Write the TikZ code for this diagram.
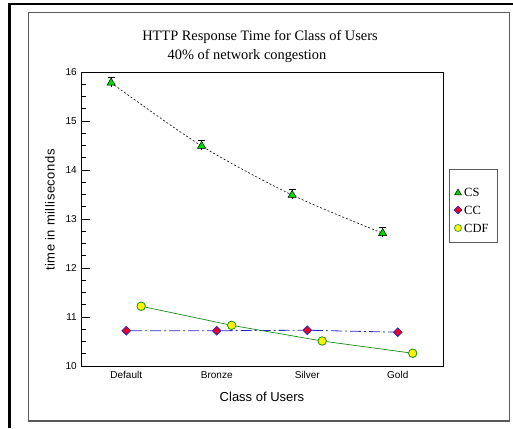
\documentclass[tikz,border=0pt]{standalone}
\usepackage{fontspec}
\setmainfont{Liberation Serif}
\setsansfont{Liberation Sans}
\usetikzlibrary{shapes.geometric,backgrounds}
\definecolor{MarkGreen}{RGB}{0,215,0}
\definecolor{LineGreen}{RGB}{20,140,20}
\definecolor{CCBlue}{RGB}{40,40,200}
\definecolor{MarkRed}{RGB}{235,0,30}
\definecolor{MarkYellow}{RGB}{255,245,0}
\definecolor{FrameGray}{RGB}{90,90,90}

\begin{document}
\begin{tikzpicture}[x=1pt, y=1pt,
  csmark/.style={regular polygon, regular polygon sides=3, fill=MarkGreen, draw=black, line width=0.5pt, inner sep=0pt, minimum size=9.5pt},
  ccmark/.style={diamond, fill=MarkRed, draw=CCBlue, line width=0.8pt, inner sep=0pt, minimum size=9pt},
  cdfmark/.style={circle, fill=MarkYellow, draw=LineGreen, line width=0.8pt, inner sep=0pt, minimum size=8.5pt},
  csline/.style={black, line width=0.6pt, dash pattern=on 2pt off 2pt},
  ccline/.style={CCBlue, line width=0.8pt, dash pattern=on 11pt off 3pt on 2pt off 3pt},
  cdfline/.style={LineGreen, line width=0.7pt},
  ticklabel/.style={font=\sffamily\fontsize{10}{12}\selectfont, inner sep=0pt},
  axislabel/.style={font=\sffamily\fontsize{13}{15}\selectfont, inner sep=0pt},
  titlefont/.style={font=\fontsize{14.4}{17}\selectfont, inner sep=0pt},
  legendfont/.style={font=\fontsize{12.5}{15}\selectfont, inner sep=0pt, anchor=west}]
\useasboundingbox (0,0) rectangle (513,428);

% Frames
\draw[line width=2.5pt] (9.5,0) -- (9.5,424) -- (513,424);
\draw[FrameGray, line width=0.8pt] (28,7) rectangle (509.5,416);
\draw[FrameGray, line width=1.6pt] (28,7) -- (509.5,7) -- (509.5,416);

% Title
\node[titlefont] (title) at (260,391) {HTTP Response Time for Class of Users};
\node[titlefont] (subtitle) at (247,372) {40\% of network congestion};

% Axis labels
\node[axislabel, rotate=90] (ylabel) at (50,218) {\addfontfeature{LetterSpace=4}time in milliseconds};
\node[axislabel] (xlabel) at (262,31) {Class of Users};

\begin{scope}[shift={(81pt,-428pt)}, x=90.5pt, y=49pt]
% Plot box
\draw[line width=0.8pt] (0,10) rectangle (4,16);

% Y ticks
\foreach \i in {0,...,24} {
  \draw[line width=0.6pt] (0,{10+\i/4}) -- ++(5pt,0);
}
\foreach \v in {10,...,16} {
  \draw[line width=0.6pt] (0,\v) -- ++(9pt,0);
  \node[ticklabel, anchor=east] (yt\v) at ([xshift=-4pt]0,\v) {\v};
}

% Categories
\foreach \c/\name in {0.5/Default, 1.5/Bronze, 2.5/Silver, 3.5/Gold} {
  \node[ticklabel, anchor=north] (xt\name) at ([yshift=-5pt]\c,10) {\name};
}

% Markers
\foreach \c/\v [count=\i] in {0.333/15.78, 1.333/14.49, 2.333/13.49, 3.333/12.71} {
  \node[csmark] (cs\i) at (\c,\v) {};
}
\foreach \c/\v [count=\i] in {0.5/10.72, 1.5/10.72, 2.5/10.73, 3.5/10.69} {
  \node[ccmark] (cc\i) at (\c,\v) {};
}
\foreach \c/\v [count=\i] in {0.665/11.22, 1.665/10.83, 2.665/10.51, 3.665/10.26} {
  \node[cdfmark] (cdf\i) at (\c,\v) {};
}

% Curves
\begin{pgfonlayer}{background}
\draw[csline] plot[smooth] coordinates {(cs1.center) (cs2.center) (cs3.center) (cs4.center)};
\foreach \i in {1,...,4} {
  \draw[line width=0.7pt] ([yshift=-4pt]cs\i.center) -- ([yshift=5.5pt]cs\i.center);
  \draw[line width=0.7pt] ([xshift=-3.5pt,yshift=5.5pt]cs\i.center) -- ([xshift=3.5pt,yshift=5.5pt]cs\i.center);
}
\end{pgfonlayer}
\draw[ccline] (cc1) -- (cc2) -- (cc3) -- (cc4);
\draw[cdfline] (cdf1) -- (cdf2) -- (cdf3) -- (cdf4);
\end{scope}

% Legend
\node[draw=FrameGray, line width=0.9pt, minimum width=48pt, minimum height=73pt] (legend) at (473,222.5) {};
\node[csmark, minimum size=8pt] (legcs) at (458,235) {};
\node[ccmark, minimum size=8pt, line width=0.6pt] (legcc) at (458,218) {};
\node[cdfmark, minimum size=7pt, line width=0.6pt] (legcdf) at (458,200) {};
\node[legendfont] (txtcs) at (464,236) {CS};
\node[legendfont] (txtcc) at (464,218) {CC};
\node[legendfont] (txtcdf) at (464,200) {CDF};
\end{tikzpicture}
\end{document}
